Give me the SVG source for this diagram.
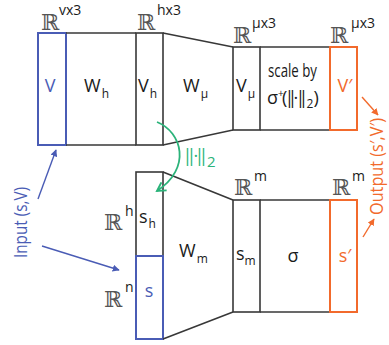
<svg xmlns="http://www.w3.org/2000/svg" width="389" height="345" viewBox="0 0 389 345">
  <style>
    .box { fill: none; stroke: #383838; stroke-width: 1.6; }
    .blue { fill: none; stroke: #4a5cb5; stroke-width: 2; }
    .orange { fill: none; stroke: #f26a2c; stroke-width: 2; }
    .edge { fill: none; stroke: #383838; stroke-width: 1.6; }
    .lbl { font-family: "Open Sans", "Noto Sans", sans-serif; font-size: 18px; fill: #1a1a1a; }
    .sub { font-size: 12px; }
    .rr { font-family: "DejaVu Serif", serif; font-size: 22px; fill: #555; }
    .sup { font-family: "Open Sans", "Noto Sans", sans-serif; font-size: 14px; fill: #1a1a1a; }
    .tb { fill: #4a5cb5; }
    .to { fill: #f26a2c; }
    .tg { fill: #2bb37a; }
  </style>
  <defs>
    <marker id="ahBlue" viewBox="0 0 10 10" refX="9" refY="5" markerWidth="7" markerHeight="7" orient="auto" markerUnits="userSpaceOnUse">
      <path d="M0,0 L10,5 L0,10 z" fill="#4a5cb5"/>
    </marker>
    <marker id="ahOrange" viewBox="0 0 10 10" refX="9" refY="5" markerWidth="7" markerHeight="7" orient="auto" markerUnits="userSpaceOnUse">
      <path d="M0,0 L10,5 L0,10 z" fill="#f26a2c"/>
    </marker>
    <marker id="ahGreen" viewBox="0 0 10 10" refX="8" refY="5" markerWidth="12" markerHeight="12" orient="auto" markerUnits="userSpaceOnUse">
      <path d="M1,1 L8,5 L1,9" fill="none" stroke="#2bb37a" stroke-width="1.6"/>
    </marker>
  </defs>

  <!-- top row: vector block -->
  <g id="V">
    <rect class="blue" x="38" y="33" width="28" height="112"/>
    <text class="lbl tb" x="50" y="92" text-anchor="middle">V</text>
    <text class="rr" x="41" y="30">ℝ</text>
    <text class="sup" x="59" y="15">vx3</text>
  </g>
  <g id="Wh">
    <path class="box" d="M66,33 H136 M66,145 H136"/>
    <text class="lbl" x="84" y="92">W<tspan class="sub" dx="1" dy="6">h</tspan></text>
  </g>
  <g id="Vh">
    <rect class="box" x="136" y="33" width="27" height="112"/>
    <text class="lbl" x="138" y="92">V<tspan class="sub" dx="1" dy="6">h</tspan></text>
    <text class="rr" x="137" y="30">ℝ</text>
    <text class="sup" x="157" y="15">hx3</text>
  </g>
  <g id="Wmu">
    <text class="lbl" x="183" y="92">W<tspan class="sub" dx="1" dy="6">μ</tspan></text>
  </g>
  <g id="Vmu">
    <rect class="box" x="233" y="47" width="27" height="83"/>
    <text class="lbl" x="236" y="92">V<tspan class="sub" dx="1" dy="6">μ</tspan></text>
    <text class="rr" x="233" y="43">ℝ</text>
    <text class="sup" x="252" y="28">μx3</text>
  </g>
  <g id="scale">
    <path class="box" d="M260,47 H330 M260,130 H330"/>
    <text class="lbl" x="268" y="77" font-size="13" textLength="49" lengthAdjust="spacingAndGlyphs">scale by</text>
    <!-- sigma-plus of the 2-norm; the bars are set close by per-glyph x -->
    <text class="lbl" x="267" y="104">σ<tspan x="278" y="97" font-size="10">+</tspan><tspan x="282 284.5 287.5 293.5 295.5 298.5" y="104">(||·||</tspan><tspan x="306.5" y="108" font-size="12">2</tspan><tspan x="313.5" y="104">)</tspan></text>
  </g>
  <g id="Vprime">
    <rect class="orange" x="330" y="47" width="27" height="83"/>
    <text class="lbl to" x="345" y="92" text-anchor="middle">V′</text>
    <text class="rr" x="330" y="43">ℝ</text>
    <text class="sup" x="351" y="28">μx3</text>
  </g>

  <!-- bottom row: scalar block -->
  <g id="sh">
    <rect class="box" x="136" y="172" width="27" height="84"/>
    <text class="lbl" x="139" y="223">s<tspan class="sub" dx="1" dy="5">h</tspan></text>
    <text class="rr" x="104" y="230">ℝ</text>
    <text class="sup" x="125" y="216">h</text>
  </g>
  <g id="s">
    <rect class="blue" x="136" y="256" width="27" height="83"/>
    <text class="lbl tb" x="149" y="297" text-anchor="middle">s</text>
    <text class="rr" x="104" y="307">ℝ</text>
    <text class="sup" x="125" y="292">n</text>
  </g>
  <g id="Wm">
    <text class="lbl" x="179" y="257">W<tspan class="sub" dx="1" dy="6">m</tspan></text>
  </g>
  <g id="sm">
    <rect class="box" x="233" y="200" width="27" height="112"/>
    <text class="lbl" x="236" y="260">s<tspan class="sub" dx="0" dy="5">m</tspan></text>
    <text class="rr" x="234" y="195">ℝ</text>
    <text class="sup" x="254" y="181">m</text>
  </g>
  <g id="sigma">
    <path class="box" d="M260,200 H330 M260,312 H330"/>
    <text class="lbl" x="293" y="262" text-anchor="middle">σ</text>
  </g>
  <g id="sprime">
    <rect class="orange" x="330" y="200" width="27" height="112"/>
    <text class="lbl to" x="345" y="262" text-anchor="middle">s′</text>
    <text class="rr" x="332" y="195">ℝ</text>
    <text class="sup" x="352" y="181">m</text>
  </g>

  <!-- side labels -->
  <g id="input">
    <text class="lbl tb" font-size="15" transform="translate(27,258) rotate(-90)" textLength="71" lengthAdjust="spacingAndGlyphs">Input (s,V)</text>
  </g>
  <g id="output">
    <text class="lbl to" font-size="15" transform="translate(383,215) rotate(-90)" textLength="97" lengthAdjust="spacingAndGlyphs">Output (s′,V′)</text>
  </g>

  <!-- connectors -->
  <g id="connectors">
    <path class="edge" d="M163,33 L233,47 M163,145 L233,130"/>
    <path class="edge" d="M163,172 L233,200 M163,339 L233,312"/>
    <path d="M38,199 L56,150" stroke="#4a5cb5" stroke-width="1.4" fill="none" marker-end="url(#ahBlue)"/>
    <path d="M42,246 L119,270" stroke="#4a5cb5" stroke-width="1.4" fill="none" marker-end="url(#ahBlue)"/>
    <path d="M362,97 L378,115" stroke="#f26a2c" stroke-width="1.4" fill="none" marker-end="url(#ahOrange)"/>
    <path d="M363,237 L374,219" stroke="#f26a2c" stroke-width="1.4" fill="none" marker-end="url(#ahOrange)"/>
    <path d="M157,122 C182,132 192,168 157,191" stroke="#2bb37a" stroke-width="1.8" fill="none" marker-end="url(#ahGreen)"/>
    <!-- norm label on the transfer arrow -->
    <text class="lbl tg" x="182.5 186.5 193.5 194.5 198.5" y="162" font-size="20">||·||<tspan x="207" y="167" font-size="15">2</tspan></text>
  </g>
</svg>
